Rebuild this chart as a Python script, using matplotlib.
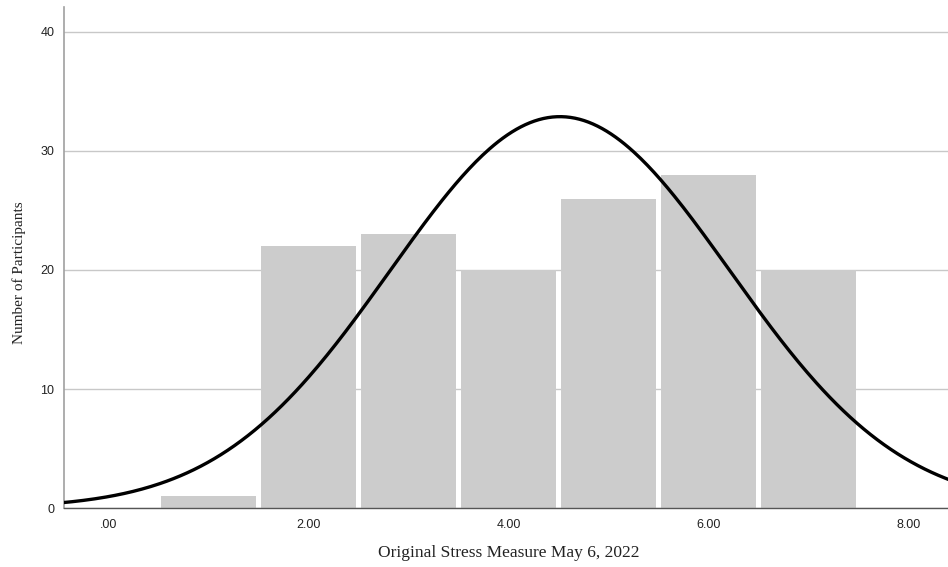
import numpy as np
import matplotlib
matplotlib.use("Agg")
import matplotlib.pyplot as plt

# histogram counts (bin centres 1..7, bin width 1)
bin_centers = [1, 2, 3, 4, 5, 6, 7]
counts = [1, 22, 23, 20, 26, 28, 20]
x_ticks = [0, 2, 4, 6, 8]
x_tick_labels = [".00", "2.00", "4.00", "6.00", "8.00"]
y_ticks = [0, 10, 20, 30, 40]


def main():
    centers = np.array(bin_centers, dtype=float)
    n = np.array(counts, dtype=float)
    total = n.sum()
    mean = (centers * n).sum() / total
    sd = np.sqrt(((centers - mean) ** 2 * n).sum() / (total - 1))

    fig = plt.figure(figsize=(9.48, 5.67), dpi=100)
    ax = fig.add_axes([0.0675, 0.104, 0.9325, 0.8837])

    ax.bar(centers, n, width=0.95, color="#cccccc", edgecolor="none", zorder=2)

    # normal curve scaled to counts
    xs = np.linspace(-0.5, 8.5, 400)
    ys = total * 1.0 / (sd * np.sqrt(2 * np.pi)) * np.exp(-0.5 * ((xs - mean) / sd) ** 2)
    ax.plot(xs, ys, color="black", linewidth=2.4, zorder=3)

    ax.set_xlim(-0.445, 8.395)
    ax.set_ylim(0, 42.1)
    ax.set_xticks(x_ticks)
    ax.set_xticklabels(x_tick_labels, fontsize=9, family="Liberation Sans")
    ax.set_yticks(y_ticks)
    ax.set_yticklabels([str(v) for v in y_ticks], fontsize=9, family="Liberation Sans")
    ax.tick_params(length=0, pad=7, colors="#222222")
    ax.tick_params(axis="x", pad=8)

    ax.yaxis.grid(True, color="#c8c8c8", linewidth=1.0, zorder=0)
    ax.set_axisbelow(True)
    for s in ["top", "right"]:
        ax.spines[s].set_visible(False)
    ax.spines["left"].set_color("#a0a0a0")
    ax.spines["left"].set_linewidth(1.2)
    ax.spines["bottom"].set_color("#555555")
    ax.spines["bottom"].set_linewidth(1.0)

    ax.set_xlabel("Original Stress Measure May 6, 2022", family="Liberation Serif",
                  fontsize=12.5, color="#222222")
    ax.xaxis.set_label_coords(0.503, -0.073)
    ax.set_ylabel("Number of Participants", family="Liberation Serif",
                  fontsize=11, color="#222222")
    ax.yaxis.set_label_coords(-0.043, 0.47)

    fig.savefig("out.png", dpi=100)


if __name__ == "__main__":
    main()
